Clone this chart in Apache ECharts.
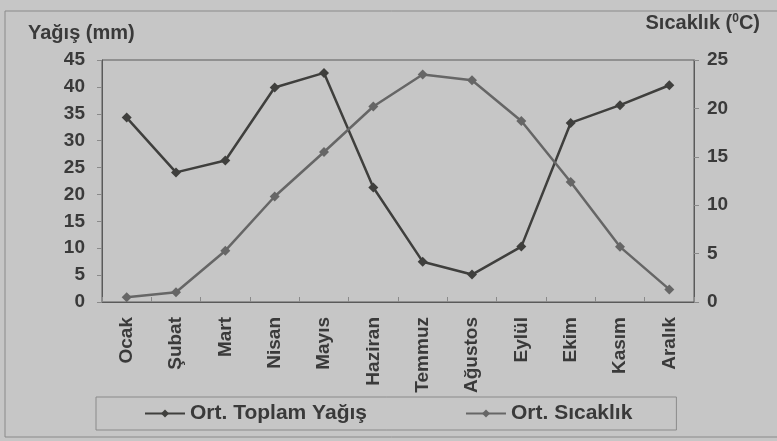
<!DOCTYPE html>
<html>
<head>
<meta charset="utf-8">
<script src="https://cdn.jsdelivr.net/npm/echarts@6/dist/echarts.min.js"></script>
<style>
    html, body { margin: 0; padding: 0; background: #c6c6c6; }
    #chart { width: 777px; height: 441px; }
</style>
</head>
<body>
<div id="chart"></div>
<script>
    // aylar
    var months = ['Ocak', 'Şubat', 'Mart', 'Nisan', 'Mayıs', 'Haziran', 'Temmuz', 'Ağustos', 'Eylül', 'Ekim', 'Kasım', 'Aralık'];
    // ortalama toplam yağış (mm)
    var rain = [34.3, 24.1, 26.3, 39.9, 42.6, 21.3, 7.5, 5.1, 10.3, 33.3, 36.6, 40.3];
    // ortalama sıcaklık (C)
    var temp = [0.5, 1.0, 5.3, 10.9, 15.5, 20.2, 23.5, 22.9, 18.7, 12.4, 5.7, 1.3];

    var font = 'Liberation Sans, Arial, sans-serif';
    var txt = '#3a3a3a';

    var option = {
        backgroundColor: '#c6c6c6',
        animation: false,
        textStyle: { fontFamily: font },
        grid: {
            left: 102,
            right: 83,
            top: 60,
            bottom: 139,
            show: true,
            borderColor: '#5a5a5a',
            borderWidth: 1
        },
        legend: {
            left: 96,
            top: 397,
            padding: [6, 44, 6, 48],
            itemWidth: 40,
            itemHeight: 10,
            itemGap: 98,
            borderColor: '#8a8a8a',
            borderWidth: 1,
            textStyle: { fontSize: 21, fontWeight: 'bold', color: txt, fontFamily: font },
            data: ['Ort. Toplam Yağış', 'Ort. Sıcaklık']
        },
        graphic: [{
            type: 'rect',
            shape: { x: 5, y: 11, width: 800, height: 426 },
            style: { fill: 'none', stroke: '#8a8a8a', lineWidth: 1 },
            silent: true
        }, {
            type: 'text',
            left: 28,
            top: 23,
            style: { text: 'Yağış (mm)', font: 'bold 20px ' + font, fill: txt }
        }, {
            type: 'text',
            right: 17,
            top: 13,
            style: {
                text: 'Sıcaklık ({s|0}C)',
                font: 'bold 20px ' + font,
                fill: txt,
                rich: { s: { fontSize: 12, fontWeight: 'bold', fontFamily: font, verticalAlign: 'top', padding: [0, 0, 6, 0] } }
            }
        }],
        xAxis: {
            type: 'category',
            data: months,
            boundaryGap: true,
            axisLine: { lineStyle: { color: '#5a5a5a', width: 1 } },
            axisTick: { show: true, inside: true, length: 5, lineStyle: { color: '#8a8a8a' } },
            axisLabel: {
                rotate: 90,
                interval: 0,
                margin: 15,
                fontSize: 19,
                fontWeight: 'bold',
                color: txt
            },
            splitLine: { show: false }
        },
        yAxis: [{
            type: 'value',
            min: 0,
            max: 45,
            interval: 5,
            axisLine: { show: true, lineStyle: { color: '#5a5a5a' } },
            axisTick: { show: true, length: 5, lineStyle: { color: '#8a8a8a' } },
            axisLabel: { fontSize: 19, fontWeight: 'bold', color: txt, margin: 17 },
            splitLine: { show: false }
        }, {
            type: 'value',
            min: 0,
            max: 25,
            interval: 5,
            position: 'right',
            axisLine: { show: true, lineStyle: { color: '#5a5a5a' } },
            axisTick: { show: true, length: 5, lineStyle: { color: '#8a8a8a' } },
            axisLabel: { fontSize: 19, fontWeight: 'bold', color: txt, margin: 13 },
            splitLine: { show: false }
        }],
        series: [{
            name: 'Ort. Toplam Yağış',
            type: 'line',
            yAxisIndex: 0,
            data: rain,
            symbol: 'diamond',
            symbolSize: 10,
            color: '#3f3f3d',
            lineStyle: { color: '#3f3f3d', width: 2.5 },
            itemStyle: { color: '#3f3f3d' }
        }, {
            name: 'Ort. Sıcaklık',
            type: 'line',
            yAxisIndex: 1,
            data: temp,
            symbol: 'diamond',
            symbolSize: 10,
            color: '#666666',
            lineStyle: { color: '#666666', width: 2.5 },
            itemStyle: { color: '#666666' }
        }]
    };

    var myChart = echarts.init(document.getElementById('chart'));
    myChart.setOption(option);
</script>
</body>
</html>
